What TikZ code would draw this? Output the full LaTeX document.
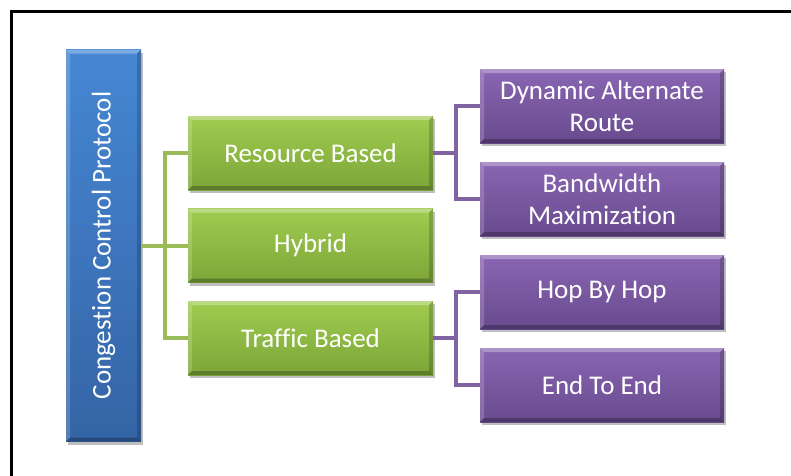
\documentclass[tikz,border=0pt]{standalone}
\usepackage{fontspec}
\setmainfont{Carlito}[Ligatures=NoCommon]
\usetikzlibrary{shadows}
\definecolor{blueTop}{RGB}{70,135,212}
\definecolor{blueBot}{RGB}{52,100,165}
\definecolor{greenTop}{RGB}{160,204,80}
\definecolor{greenBot}{RGB}{124,166,56}
\definecolor{purpTop}{RGB}{138,102,178}
\definecolor{purpBot}{RGB}{104,74,142}
\definecolor{gline}{RGB}{155,187,89}
\definecolor{pline}{RGB}{128,100,162}
\tikzset{
  bevel/.style={path picture={
    \fill[white,opacity=0.30] (path picture bounding box.north west) -- (path picture bounding box.north east)
      -- ([xshift=-4pt,yshift=-4pt]path picture bounding box.north east) -- ([xshift=4pt,yshift=-4pt]path picture bounding box.north west) -- cycle;
    \fill[white,opacity=0.18] (path picture bounding box.north west) -- ([xshift=4pt,yshift=-4pt]path picture bounding box.north west)
      -- ([xshift=4pt,yshift=4pt]path picture bounding box.south west) -- (path picture bounding box.south west) -- cycle;
    \fill[black,opacity=0.25] (path picture bounding box.south west) -- (path picture bounding box.south east)
      -- ([xshift=-4pt,yshift=4pt]path picture bounding box.south east) -- ([xshift=4pt,yshift=4pt]path picture bounding box.south west) -- cycle;
    \fill[black,opacity=0.18] (path picture bounding box.north east) -- ([xshift=-4pt,yshift=-4pt]path picture bounding box.north east)
      -- ([xshift=-4pt,yshift=4pt]path picture bounding box.south east) -- (path picture bounding box.south east) -- cycle;
  }},
  box/.style={rectangle, inner sep=0pt, text=white, align=center,
    font=\fontsize{27}{32}\selectfont, bevel,
    drop shadow={shadow xshift=2pt, shadow yshift=-3pt, opacity=0.25, fill=black}},
  bluebox/.style={box, minimum width=75pt, minimum height=392pt, top color=blueTop, bottom color=blueBot},
  greenbox/.style={box, minimum width=245pt, minimum height=74pt, top color=greenTop, bottom color=greenBot},
  purplebox/.style={box, minimum width=244pt, minimum height=74pt, top color=purpTop, bottom color=purpBot},
  gconn/.style={draw=gline, line width=3.5pt},
  pconn/.style={draw=pline, line width=3.5pt},
}
\begin{document}
\begin{tikzpicture}[x=1pt,y=-1pt]
  \useasboundingbox (0,0) rectangle (791,475);
  \fill[white] (0,0) rectangle (791,475);
  % outer frame, open to the right and bottom
  \draw[line width=3pt] (792,11) -- (11,11) -- (11,476);

  % junction points
  \coordinate (gj) at (165,246);
  \coordinate (pj) at (456,0);

  % root
  \node[bluebox] (root) at (103.5,245.5) {\rotatebox{90}{Congestion Control Protocol}};

  % second level
  \node[greenbox] (rb) at (310.5,153) {Resource Based};
  \node[greenbox] (hy) at (310.5,245.5) {Hybrid};
  \node[greenbox] (tb) at (310.5,338) {Traffic Based};

  % third level
  \node[purplebox] (dar) at (602,106) {Dynamic Alternate\\Route};
  \node[purplebox] (bm)  at (602,199) {Bandwidth\\Maximization};
  \node[purplebox] (hbh) at (602,292) {Hop By Hop};
  \node[purplebox] (ete) at (602,385) {End To End};

  % root to second level
  \draw[gconn] (root.east |- gj) -- (hy.west |- gj);
  \draw[gconn] (rb.west) -- (rb.west -| gj) -- (tb.west -| gj) -- (tb.west);

  % second level to third level
  \draw[pconn] (rb.east) -- (rb.east -| pj);
  \draw[pconn] (dar.west) -- (dar.west -| pj) -- (bm.west -| pj) -- (bm.west);
  \draw[pconn] (tb.east) -- (tb.east -| pj);
  \draw[pconn] (hbh.west) -- (hbh.west -| pj) -- (ete.west -| pj) -- (ete.west);
\end{tikzpicture}
\end{document}
